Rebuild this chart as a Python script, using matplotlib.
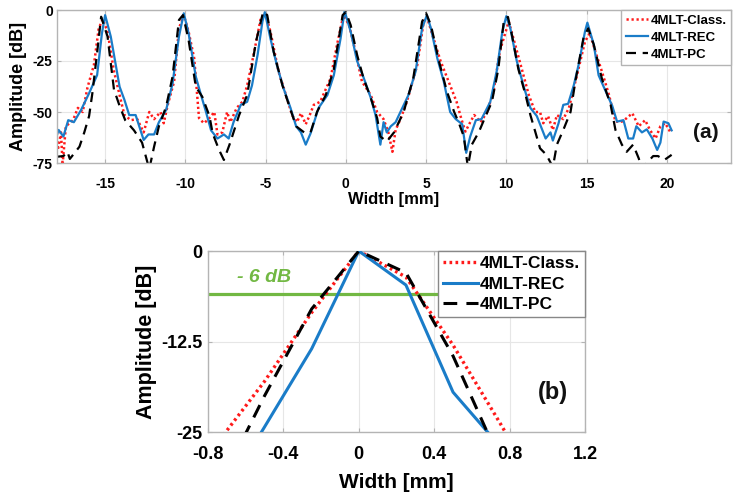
import matplotlib
matplotlib.use('Agg')
import matplotlib.pyplot as plt

# ---------------- data: panel (a) ----------------
x_cls_a = [-18.1, -17.95, -17.75, -17.65, -17.45, -17.0, -16.7, -16.4, -16.1, -15.7, -15.4, -15.15,
           -14.85, -14.45, -14.0, -13.8, -13.4, -13.0, -12.6, -12.25, -11.95, -11.55, -11.35, -11.1,
           -10.7, -10.4, -10.1, -9.8, -9.45, -9.15, -8.85, -8.55, -8.2, -8.0, -7.7, -7.4, -7.2,
           -6.8, -6.45, -6.15, -5.75, -5.3, -5.0, -4.7, -4.2, -3.8, -3.35, -3.05, -2.8, -2.5,
           -2.25, -2.0, -1.6, -0.95, -0.55, -0.15, 0.2, 0.5, 1.0, 1.55, 1.95, 2.35, 2.65, 2.9,
           3.1, 3.4, 3.8, 4.45, 4.85, 5.05, 5.4, 5.9, 6.4, 6.9, 7.2, 7.45, 7.75, 8.0, 8.4, 8.8,
           9.2, 9.6, 10.15, 10.55, 11.0, 11.4, 11.8, 12.1, 12.3, 12.6, 12.9, 13.15, 13.55, 13.9,
           14.4, 14.9, 15.2, 15.55, 15.95, 16.4, 16.8, 17.2, 17.5, 17.85, 18.25, 18.65, 18.95,
           19.3, 19.6, 19.9, 20.2]
y_cls_a = [-57, -68.6, -60, -76, -57, -54, -48, -50, -38, -27, -9, -4.5,
           -10.6, -30, -45, -51.5, -54, -53.5, -60, -50, -53.5, -50, -55.5, -46.5,
           -35, -9, -2.5, -10.6, -23.7, -53, -55.5, -53.5, -50, -61, -60, -50, -55,
           -48, -45, -37, -22, -4, -1.8, -10.6, -30, -40, -51.5, -55, -50.6, -56,
           -51.5, -46.5, -45, -33.5, -17, -2.5, -7.4, -17, -35, -41.7, -50, -53.5, -60, -69.5,
           -58.8, -53.5, -45, -27, -5.7, -3.4, -12.3, -25, -35, -45, -53.5, -59.6, -55, -51.5, -55, -50,
           -40, -20, -5.7, -17, -30, -41.7, -50, -50, -55.5, -52, -58.8, -51.5, -53.5, -48,
           -32, -15.5, -11.4, -20.4, -30, -41.7, -54.7, -54.7, -53, -50.6, -57, -54, -58.8,
           -63, -57, -55.5, -59.6]

x_rec_a = [-18.1, -17.9, -17.6, -17.3, -16.95, -16.5, -16.0, -15.5, -15.2, -15.0, -14.65, -14.1,
           -13.8, -13.5, -13.1, -12.6, -12.3, -11.95, -11.65, -11.2, -10.8, -10.4, -10.1, -9.8,
           -9.35, -9.05, -8.75, -8.4, -8.0, -7.6, -7.3, -7.0, -6.55, -6.15, -5.85, -5.5, -5.2,
           -5.05, -4.7, -4.3, -3.9, -3.45, -3.1, -2.8, -2.5, -2.2, -1.7, -1.15, -0.75, -0.33,
           -0.08, 0.3, 0.7, 1.1, 1.55, 1.85, 2.15, 2.35, 2.55, 2.8, 3.1, 3.4, 3.9, 4.35, 4.75,
           5.05, 5.3, 5.7, 6.1, 6.5, 6.85, 7.25, 7.5, 7.75, 8.1, 8.45, 9.0, 9.4, 9.75, 10.0,
           10.25, 10.65, 11.1, 11.5, 11.9, 12.45, 12.75, 12.9, 13.25, 13.55, 13.85, 14.2, 14.5,
           14.9, 15.05, 15.45, 15.75, 16.2, 16.6, 16.9, 17.3, 17.6, 17.9, 18.1, 18.45, 18.75,
           19.1, 19.4, 19.6, 19.8, 20.1, 20.3]
y_rec_a = [-63.7, -58.8, -62, -54, -55, -49, -40.8, -31.9, -11.4, -2.5, -13, -37.6,
           -44, -51.5, -51.5, -63.7, -61, -61, -55, -49, -36, -13, -1.6, -11.4,
           -32.7, -41, -49, -59, -63, -61, -63, -55, -46.5, -45, -37, -22, -5.7,
           -1, -14, -27, -38, -48, -57, -60, -66, -60.5, -48, -41.7, -32, -14,
           -0.5, -10.6, -25, -33, -43, -51.5, -66, -55, -60, -57, -55, -50, -41.7, -30, -9,
           -2.5, -9, -23.7, -35, -50, -53.5, -56, -70, -62, -54, -53.5, -45, -30, -10.6, -3,
           -9, -25, -38, -48, -52, -63, -60, -64, -55.6, -46.5, -46, -37, -27,
           -10.6, -6.2, -17, -32, -40, -47, -54.7, -54, -63, -63, -57, -60, -58.5,
           -63, -68.6, -65, -54.7, -55.5, -59]

x_pc_a = [-18.1, -17.6, -17.35, -17.2, -16.6, -16.3, -16.0, -15.8, -15.5, -15.25, -14.85, -14.45,
          -14.1, -13.75, -13.2, -12.7, -12.25, -11.95, -11.65, -11.2, -10.8, -10.4, -10.15,
          -9.8, -9.35, -8.95, -8.5, -8.3, -7.9, -7.6, -7.25, -6.65, -6.15, -5.6, -5.15, -4.9,
          -4.5, -3.95, -3.55, -3.1, -2.6, -2.2, -1.8, -1.25, -0.75, -0.2, 0.0, 0.3, 0.7, 1.1,
          1.55, 1.95, 2.15, 2.55, 3.0, 3.6, 4.2, 4.75, 5.0, 5.3, 5.8, 6.3, 6.75, 7.05, 7.35,
          7.6, 7.85, 8.3, 8.6, 9.1, 9.5, 9.85, 10.1, 10.35, 10.75, 11.2, 11.5, 11.8, 12.1, 12.5,
          12.9, 13.15, 13.55, 14.0, 14.3, 14.8, 15.1, 15.45, 15.95, 16.5, 16.8, 17.2, 17.5,
          17.9, 18.25, 18.45, 18.75, 19.15, 19.45, 19.85, 20.3]
y_pc_a = [-72, -71.6, -69.5, -73, -67, -60, -52, -41, -21, -3.3, -13, -39,
          -47, -54, -59, -65, -78, -67, -57, -47.4, -32.7, -4.9, -2.5,
          -14.7, -37.6, -42.5, -52, -60.5, -68.6, -73.5, -66, -51.5, -41.7, -15.5, -0.8, -2.5,
          -20.4, -37, -46.5, -57, -60, -60, -50, -41.7, -29, -2.5, -1, -7.4, -22, -33.5,
          -43, -53, -62, -64.5, -60, -50, -33.5, -5.7, -1.6, -7.4, -25, -40, -50, -55.5, -62,
          -77, -66, -59.6, -54, -45, -29, -4.9, -3.4, -12.3, -29, -41.7, -51.5, -59.6, -67.8, -71,
          -77, -66, -58.8, -50, -35, -14, -9, -17, -33.5, -46.5, -58.8, -66, -69.5,
          -66, -72.7, -78, -75, -71.6, -71.6, -73.5, -71]

# ---------------- data: panel (b) ----------------
x_b = [-1.0, -0.75, -0.5, -0.25, 0.0, 0.25, 0.5, 0.75, 1.0]
y_cls_b = [-36, -26.5, -18, -8.5, 0, -3.6, -13, -23.8, -35]
y_rec_b = [-45, -35, -24.3, -13.5, 0, -4.7, -19.5, -27, -38]
y_pc_b = [-44, -33, -20, -8, 0, -3, -14.5, -29, -40]

labels = ['4MLT-Class.', '4MLT-REC', '4MLT-PC']
xticks_a = [-15, -10, -5, 0, 5, 10, 15, 20]
yticks_a = [0, -25, -50, -75]
xticks_b = [-0.8, -0.4, 0, 0.4, 0.8, 1.2]
xticklabels_b = ['-0.8', '-0.4', '0', '0.4', '0.8', '1.2']
yticks_b = [0, -12.5, -25]
yticklabels_b = ['0', '-12.5', '-25']

# ---------------- styling ----------------
plt.rcParams['font.family'] = ['Liberation Sans', 'DejaVu Sans']
plt.rcParams['font.weight'] = 'bold'
plt.rcParams['axes.unicode_minus'] = False
RED = '#ff1a1a'
BLUE = '#1a7cc8'
BLACK = '#000000'
GREEN = '#72b843'
FRAME = '#b4b4b4'
GRID = '#e6e6e6'

fig = plt.figure(figsize=(7.36, 4.98), dpi=100)


def style_axes(ax, fs, pad_x, pad_y):
    for s in ax.spines.values():
        s.set_color(FRAME)
        s.set_linewidth(1.0)
    ax.grid(True, color=GRID, linewidth=0.8)
    ax.set_axisbelow(True)
    ax.tick_params(direction='in', length=3, color=FRAME, top=True, right=True,
                   labelsize=fs, labelcolor='black')
    ax.tick_params(axis='x', pad=pad_x)
    ax.tick_params(axis='y', pad=pad_y)
    for lab in ax.get_xticklabels() + ax.get_yticklabels():
        lab.set_fontweight('bold')


# ----- panel (a) -----
ax1 = fig.add_axes([57 / 736, 1 - 163 / 498, (731 - 57) / 736, (163 - 10) / 498])
ax1.plot(x_cls_a, y_cls_a, color=RED, linestyle=(0, (0.9, 1.1)), linewidth=1.8, label=labels[0])
ax1.plot(x_rec_a, y_rec_a, color=BLUE, linestyle='-', linewidth=1.6, label=labels[1])
ax1.plot(x_pc_a, y_pc_a, color=BLACK, linestyle=(0, (4.5, 3)), linewidth=1.6, label=labels[2])
ax1.set_xlim(-18, 24)
ax1.set_ylim(-75, 0)
ax1.set_xticks(xticks_a)
ax1.set_yticks(yticks_a)
style_axes(ax1, 10, 10, 3)
ax1.set_xlabel('Width [mm]', fontsize=12, fontweight='bold', labelpad=1)
ax1.set_ylabel('Amplitude [dB]', fontsize=13, fontweight='bold', labelpad=4)
leg1 = ax1.legend(loc='upper right', fontsize=9.5, handlelength=1.7, handletextpad=0.15,
                  borderpad=0.35, labelspacing=0.35, borderaxespad=0, fancybox=False,
                  framealpha=1, edgecolor=FRAME)
leg1.get_frame().set_linewidth(1.0)
for t in leg1.get_texts():
    t.set_fontweight('bold')
ax1.text(0.962, 0.2, '(a)', transform=ax1.transAxes, fontsize=15, fontweight='bold',
         ha='center', va='center', color='#111111')

# ----- panel (b) -----
ax2 = fig.add_axes([208 / 736, 1 - 432 / 498, (585 - 208) / 736, (432 - 251) / 498])
ax2.axhline(-6, color=GREEN, linewidth=2.3, zorder=2)
ax2.plot(x_b, y_cls_b, color=RED, linestyle=(0, (0.8, 1.0)), linewidth=2.4, label=labels[0], zorder=3)
ax2.plot(x_b, y_rec_b, color=BLUE, linestyle='-', linewidth=2.2, label=labels[1], zorder=3)
ax2.plot(x_b, y_pc_b, color=BLACK, linestyle=(0, (4.5, 3)), linewidth=2.2, label=labels[2], zorder=3)
ax2.set_xlim(-0.8, 1.2)
ax2.set_ylim(-25, 0)
ax2.set_xticks(xticks_b)
ax2.set_xticklabels(xticklabels_b)
ax2.set_yticks(yticks_b)
ax2.set_yticklabels(yticklabels_b)
style_axes(ax2, 13, 10, 4)
ax2.set_xlabel('Width [mm]', fontsize=15, fontweight='bold', labelpad=7)
ax2.set_ylabel('Amplitude [dB]', fontsize=15.5, fontweight='bold', labelpad=3)
ax2.text(-0.5, -3.7, '- 6 dB', color=GREEN, fontsize=14, fontweight='bold', fontstyle='italic',
         ha='center', va='center')
leg2 = ax2.legend(loc='upper right', fontsize=12.5, handlelength=2.0, handletextpad=0.1,
                  borderpad=0.3, labelspacing=0.3, borderaxespad=0, fancybox=False,
                  framealpha=1, edgecolor='#888888')
leg2.get_frame().set_linewidth(1.0)
for t in leg2.get_texts():
    t.set_fontweight('bold')
ax2.text(0.915, 0.22, '(b)', transform=ax2.transAxes, fontsize=17, fontweight='bold',
         ha='center', va='center', color='#111111')

fig.savefig('out.png', dpi=100)
